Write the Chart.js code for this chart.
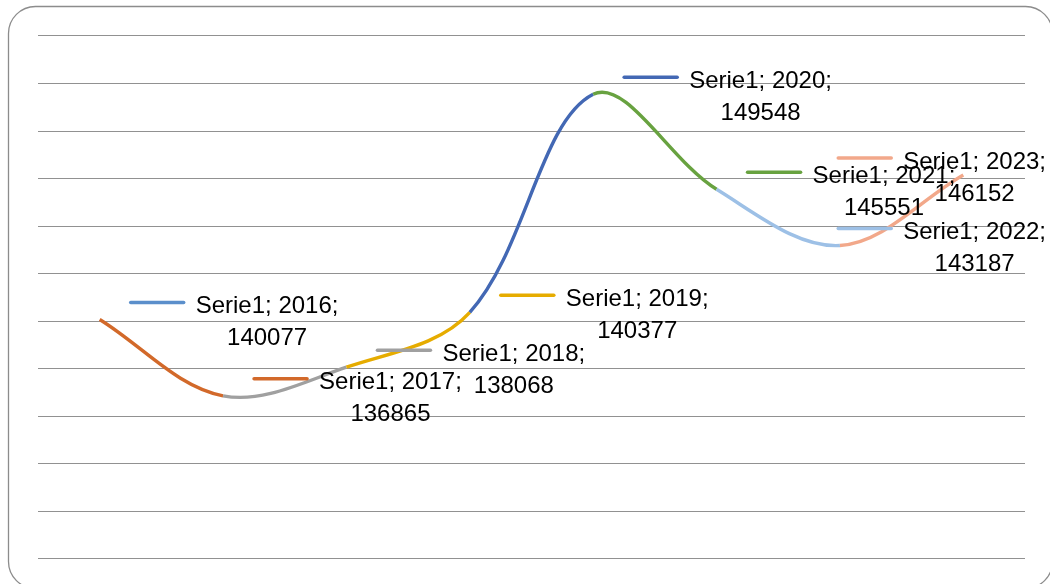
<!DOCTYPE html>
<html>
<head>
<meta charset="utf-8">
<script src="https://cdn.jsdelivr.net/npm/chart.js@4"></script>
<style>
    html, body { margin: 0; padding: 0; background: #fff; }
    #wrap { position: relative; width: 1050px; height: 584px; }
</style>
</head>
<body>
<div id="wrap"><canvas id="lineChart"></canvas></div>
<script>
// values
const seriesName = "Serie1";
const years = ["2016", "2017", "2018", "2019", "2020", "2021", "2022", "2023"];
const values = [140077, 136865, 138068, 140377, 149548, 145551, 143187, 146152];
const pointColors = ["#5B8FCB", "#D2692A", "#A0A0A0", "#E6AC00", "#4368B4", "#68A240", "#9DC0E6", "#F2A88A"];

// rounded frame round the chart (goes a little past the right and bottom edge)
const framePlugin = {
    id: "frame",
    beforeDraw: (chart) => {
        const ctx = chart.ctx;
        ctx.save();
        ctx.strokeStyle = "#8c8c8c";
        ctx.lineWidth = 1.3;
        ctx.beginPath();
        ctx.roundRect(8.5, 6.5, 1044, 582, 27);
        ctx.stroke();
        ctx.restore();
    }
};

// Excel style data labels: a short key line, then "Serie1; year;" over the value
const labelPlugin = {
    id: "dataLabels",
    afterDatasetsDraw: (chart) => {
        const ctx = chart.ctx;
        const meta = chart.getDatasetMeta(0);
        ctx.save();
        ctx.font = "24px 'Liberation Sans', Arial, sans-serif";
        ctx.textAlign = "center";
        ctx.textBaseline = "alphabetic";
        meta.data.forEach((pt, i) => {
            const line1 = seriesName + "; " + years[i] + ";";
            const line2 = String(values[i]);
            const textW = Math.max(ctx.measureText(line1).width, ctx.measureText(line2).width);
            const keyW = 53;
            const gap = 12;
            let left = pt.x + 31;
            const rightLimit = 1046;
            if (left + keyW + gap + textW > rightLimit) {
                left = rightLimit - (keyW + gap + textW);
            }
            const keyY = pt.y - 17;
            ctx.strokeStyle = pointColors[i];
            ctx.lineWidth = 3.5;
            ctx.lineCap = "round";
            ctx.beginPath();
            ctx.moveTo(left, keyY);
            ctx.lineTo(left + keyW, keyY);
            ctx.stroke();
            const cx = left + keyW + gap + textW / 2;
            ctx.fillStyle = "#000";
            ctx.fillText(line1, cx, keyY + 10.5);
            ctx.fillText(line2, cx, keyY + 42.5);
        });
        ctx.restore();
    }
};

const ctx = document.getElementById("lineChart");
new Chart(ctx, {
    type: "line",
    data: {
        labels: years,
        datasets: [
            {
                label: seriesName,
                data: values,
                borderWidth: 3.4,
                borderColor: pointColors[1],
                tension: 0.35,
                pointRadius: 0,
                pointHoverRadius: 0,
                fill: false,
                segment: {
                    borderColor: (c) => pointColors[c.p1DataIndex]
                }
            }
        ]
    },
    options: {
        responsive: true,
        maintainAspectRatio: false,
        animation: false,
        events: [],
        layout: {
            padding: { left: 38, right: 25, top: 36, bottom: 25 }
        },
        plugins: {
            legend: { display: false },
            tooltip: { enabled: false }
        },
        scales: {
            x: {
                type: "category",
                offset: true,
                display: false
            },
            y: {
                min: 130000,
                max: 152000,
                ticks: { stepSize: 2000, display: false },
                grid: { color: "#919191", lineWidth: 1.1, drawTicks: false },
                border: { display: false }
            }
        }
    },
    plugins: [framePlugin, labelPlugin]
});
</script>
</body>
</html>
